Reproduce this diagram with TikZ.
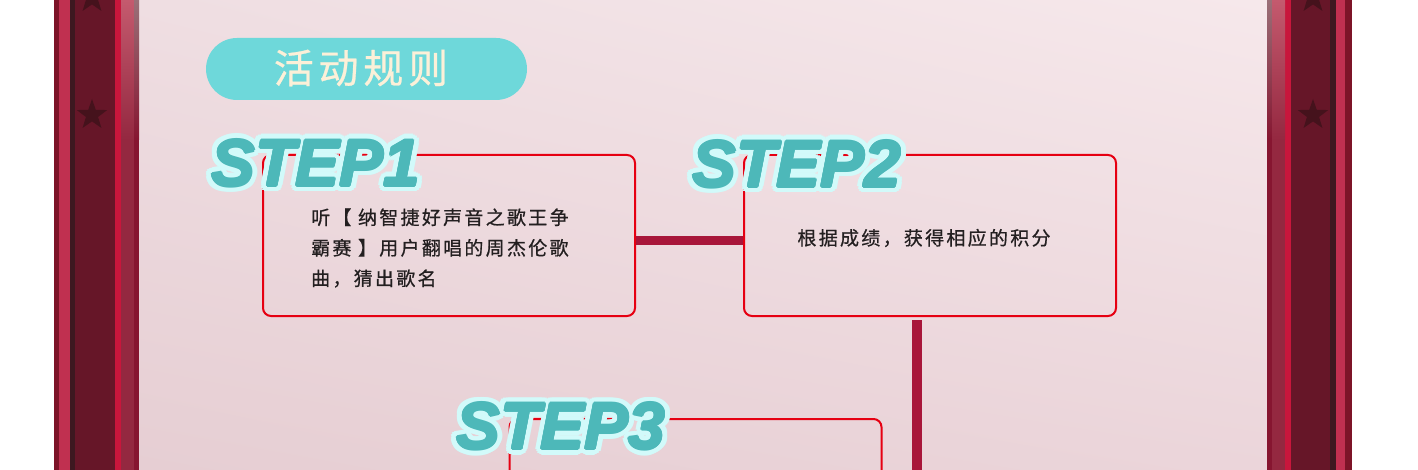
\documentclass[tikz,border=0pt]{standalone}
\usepackage{fontspec}
\setmainfont{Liberation Sans}
\newfontfamily\cjk[LetterSpace=12, FakeBold=0.7]{Noto Sans CJK SC}
\newfontfamily\cjktitle[LetterSpace=12, FakeBold=0.6]{Noto Sans CJK SC}
\usetikzlibrary{shapes.geometric, shadings}
\definecolor{pinkbgA}{HTML}{EFDEE2}
\definecolor{pinkbgB}{HTML}{F6E8EB}
\definecolor{pinkbgC}{HTML}{E6CED3}
\definecolor{pinkbgD}{HTML}{EBD5DA}
\definecolor{frameout}{HTML}{7D1428}
\definecolor{framelight}{HTML}{C03050}
\definecolor{framedeep}{HTML}{3D1820}
\definecolor{framemain}{HTML}{661628}
\definecolor{framered}{HTML}{C8163C}
\definecolor{framemid}{HTML}{942840}
\definecolor{frameedge}{HTML}{861530}
\definecolor{frameshine}{HTML}{C45A6E}
\definecolor{frameshineB}{HTML}{9A7078}
\definecolor{starred}{HTML}{45121C}
\definecolor{boxred}{HTML}{E60012}
\definecolor{linkred}{HTML}{A8163A}
\definecolor{stepteal}{HTML}{4DB8B9}
\definecolor{stepglow}{HTML}{D2FAFA}
\definecolor{pillcyan}{HTML}{6ED8DA}
\definecolor{pilltext}{HTML}{FCF0D8}
\definecolor{bodytext}{HTML}{231F20}

\begin{document}
\begin{tikzpicture}[x=1pt, y=-1pt,
    stepbox/.style={draw=boxred, line width=2pt, rounded corners=8pt, minimum width=372pt, minimum height=161pt, inner sep=0pt},
    steptext/.style={anchor=base west, inner sep=0pt, font=\bfseries\itshape\fontsize{66}{66}\selectfont},
    bodynode/.style={inner sep=0pt, text=bodytext, font=\cjk\fontsize{19}{30.5}\selectfont},
    link/.style={linkred, line width=9.5pt},
    framestar/.style={star, star points=5, star point ratio=2.5, fill=starred, minimum size=32pt, inner sep=0pt}]
        \clip (0,0) rectangle (1418,470);
        \fill[white] (0,0) rectangle (1418,470);

        % Background
        \shade[upper left=pinkbgA, upper right=pinkbgB, lower left=pinkbgC, lower right=pinkbgD] (139,0) rectangle (1267,470);

        % Frame
        \fill[frameout] (54,0) rectangle (59,470);
        \fill[framelight] (59,0) rectangle (70,470);
        \fill[framedeep] (70,0) rectangle (75,470);
        \fill[framemain] (75,0) rectangle (115,470);
        \fill[framered] (115,0) rectangle (121,470);
        \fill[framemid] (121,0) rectangle (134,470);
        \fill[frameedge] (134,0) rectangle (139,470);
        \shade[top color=frameshine, bottom color=framemid] (121,0) rectangle (134,140);
        \shade[top color=frameshineB, bottom color=frameedge] (134,0) rectangle (139,140);
        \fill[frameedge] (1267,0) rectangle (1272,470);
        \fill[framemid] (1272,0) rectangle (1285,470);
        \fill[framered] (1285,0) rectangle (1291,470);
        \fill[framemain] (1291,0) rectangle (1330,470);
        \fill[framedeep] (1330,0) rectangle (1336,470);
        \fill[framelight] (1336,0) rectangle (1345,470);
        \fill[frameout] (1345,0) rectangle (1352,470);
        \shade[top color=frameshineB, bottom color=frameedge] (1267,0) rectangle (1272,140);
        \shade[top color=frameshine, bottom color=framemid] (1272,0) rectangle (1285,140);
        \node[framestar] (starL1) at (92,-2) {};
        \node[framestar] (starL2) at (92,115) {};
        \node[framestar] (starR1) at (1313,-2) {};
        \node[framestar] (starR2) at (1313,115) {};

        % Title
        \node[fill=pillcyan, rounded corners=31pt, minimum width=321pt, minimum height=62pt, inner sep=0pt] (pill) at (366.5,69) {};
        \node[inner sep=0pt, text=pilltext, font=\cjktitle\fontsize{40}{40}\selectfont] (title) at (361,68) {活动规则};

        % Node positions
        \node[stepbox] (box1) at (449,235.5) {};
        \node[stepbox] (box2) at (930,235.5) {};
        \node[stepbox] (box3) at (695.5,499.5) {};
        \coordinate (down) at (917,480);

        \draw[link] ([yshift=-5pt]box1.east) -- ([yshift=-5pt]box2.west);
        \draw[link] ([xshift=-13pt,yshift=-3pt]box2.south) -- (down);

        % Texts
        \node[bodynode, anchor=west, align=left] (text1) at (311,248) {听【 纳智捷好声音之歌王争\\霸赛 】用户翻唱的周杰伦歌\\曲，猜出歌名};
        \node[bodynode] (text2) at (924,238) {根据成绩，获得相应的积分};

        % Step labels
        \foreach \lab/\px/\py in {1/211/186, 2/692/187, 3/456/449} {
            \foreach \a in {0,22.5,...,337.5} {
                \node[steptext, text=stepglow] at ([shift={(\a:6pt)}]\px,\py) {STEP\lab};
                \node[steptext, text=stepglow] at ([shift={(\a:3.5pt)}]\px,\py) {STEP\lab};
            }
            \foreach \a in {0,45,...,315}
                \node[steptext, text=stepteal] at ([shift={(\a:1.1pt)}]\px,\py) {STEP\lab};
            \node[steptext, text=stepteal] (step\lab) at (\px,\py) {STEP\lab};
        }
\end{tikzpicture}
\end{document}
